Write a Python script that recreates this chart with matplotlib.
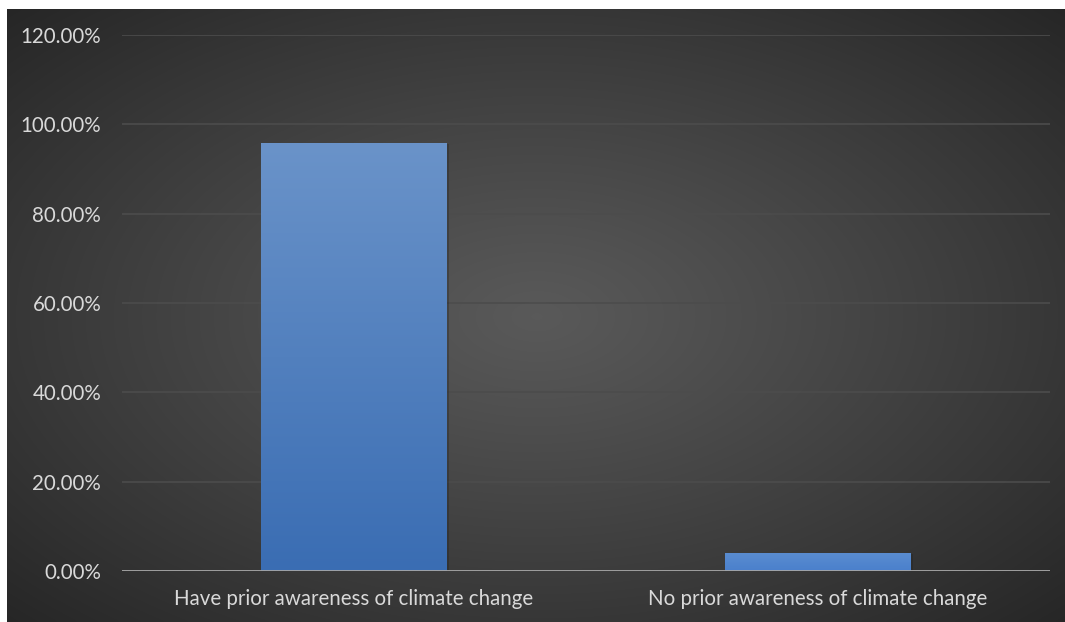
import numpy as np
import matplotlib
matplotlib.use("Agg")
import matplotlib.pyplot as plt
from matplotlib.colors import LinearSegmentedColormap

categories = ["Have prior awareness of climate change", "No prior awareness of climate change"]
values = [95.8, 4.0]
yticks = [0, 20, 40, 60, 80, 100, 120]
ytick_labels = ["0.00%", "20.00%", "40.00%", "60.00%", "80.00%", "100.00%", "120.00%"]

W, H = 1065, 622
fig = plt.figure(figsize=(W / 100, H / 100), dpi=100, facecolor="white")

# dark radial-gradient background panel
bg = fig.add_axes([7 / W, 0, (W - 7) / W, (H - 9) / H])
bg.set_axis_off()
yy, xx = np.mgrid[0:300, 0:500]
cx, cy = 250, 150
r = np.sqrt(((xx - cx) / 250) ** 2 + ((yy - cy) / 150) ** 2) / np.sqrt(2)
r = np.clip(r, 0, 1)
c0, c1 = 0.35, 0.150
g = c0 + (c1 - c0) * r ** 1.1
img = np.dstack([g, g, g])
bg.imshow(img, aspect="auto", extent=[0, 1, 0, 1], interpolation="bicubic")
bg.set_xlim(0, 1)
bg.set_ylim(0, 1)

ax = fig.add_axes([122 / W, (H - 571) / H, (1050 - 122) / W, (571 - 35) / H])
ax.patch.set_alpha(0)
for s in ax.spines.values():
    s.set_visible(False)

ax.set_xlim(-0.5, 1.5)
ax.set_ylim(0, 120)
ax.set_yticks(yticks)
ax.set_yticklabels(ytick_labels)
ax.yaxis.grid(True, color="#4c4c4c", linewidth=1.2)
ax.set_axisbelow(True)
ax.tick_params(axis="y", length=0, pad=15, labelsize=14.8, labelcolor="#d9d9d9")
ax.set_xticks(range(len(categories)))
ax.set_xticklabels(categories)
ax.tick_params(axis="x", length=0, pad=13, labelsize=14.8, labelcolor="#d9d9d9")
for lab in ax.get_xticklabels() + ax.get_yticklabels():
    lab.set_fontfamily("Lato")

cmap = LinearSegmentedColormap.from_list("bar", ["#3a6db3", "#6a93c9"])
x = np.arange(len(categories))
bars = ax.bar(x, values, width=0.4, color="none", edgecolor="none", zorder=3)
grad = np.linspace(0, 1, 256).reshape(-1, 1)
for b, v in zip(bars, values):
    x0 = b.get_x()
    w = b.get_width()
    # soft shadow
    ax.bar(x0 + w / 2 + 0.002, v + 0.3, width=w + 0.006, bottom=-0.4, color="#1e1e1e", alpha=0.3, zorder=2)
    if v > 50:
        im = ax.imshow(grad, cmap=cmap, aspect="auto", origin="lower",
                       extent=[x0, x0 + w, 0, v], zorder=3, vmin=0, vmax=1)
    else:
        c2 = LinearSegmentedColormap.from_list("b2", ["#4a80cc", "#5a8cd0"])
        im = ax.imshow(grad, cmap=c2, aspect="auto", origin="lower",
                       extent=[x0, x0 + w, 0, v], zorder=3, vmin=0, vmax=1)
    im.set_clip_path(b)

ax.axhline(0, color="#a6a6a6", linewidth=1.3, zorder=4)
ax.set_xlim(-0.5, 1.5)
ax.set_ylim(0, 120)

fig.savefig("out.png", dpi=100, facecolor="white")
